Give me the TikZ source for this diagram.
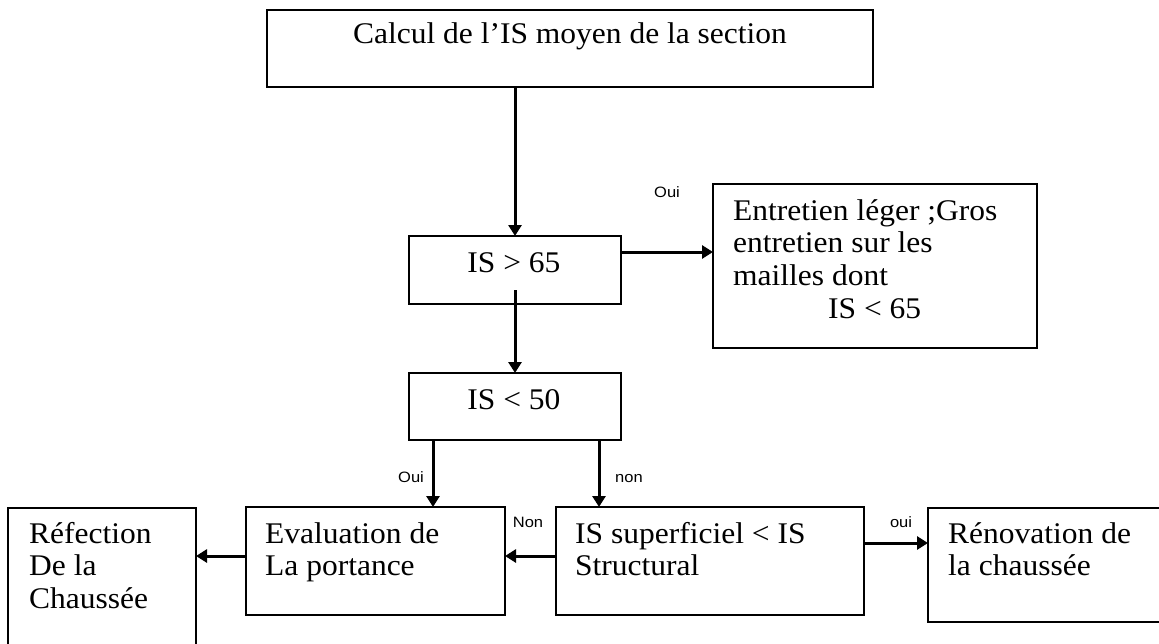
\documentclass[tikz,border=0pt]{standalone}
\usepackage{fontspec}
\setmainfont{Liberation Serif}[FakeStretch=1.05]
\newfontfamily\labfont{Liberation Sans}[FakeStretch=1.1]
\usetikzlibrary{arrows.meta,calc}
\begin{document}
\begin{tikzpicture}[x=1pt,y=-1pt,
  box/.style={draw=black,line width=1.5pt,inner sep=0pt,outer sep=0pt,anchor=north west},
  txt/.style={inner sep=0pt,anchor=base west,font=\fontsize{30}{33}\selectfont},
  ctxt/.style={inner sep=0pt,anchor=base,font=\fontsize{30}{33}\selectfont},
  lab/.style={inner sep=0pt,anchor=base,font=\labfont\fontsize{15}{17}\selectfont},
  arr/.style={line width=3pt,-{Triangle[length=11pt,width=13pt]}}]
\fill[white] (0,0) rectangle (1159,643);
\useasboundingbox (0,0) rectangle (1159,643);
% boxes
\node[box,minimum width=606pt,minimum height=77pt] (top) at (267,10) {};
\node[box,minimum width=212pt,minimum height=68pt] (gt) at (409,236) {};
\node[box,minimum width=324pt,minimum height=164pt] (ent) at (713,184) {};
\node[box,minimum width=212pt,minimum height=67pt] (lt) at (409,373) {};
\node[box,minimum width=188pt,minimum height=160pt] (ref) at (8,508) {};
\node[box,minimum width=259pt,minimum height=108pt] (eva) at (246,507) {};
\node[box,minimum width=308pt,minimum height=108pt] (sup) at (556,507) {};
\node[box,minimum width=260pt,minimum height=114pt] (ren) at (928,508) {};
% texts
\node[ctxt] (ttop) at (570,43) {Calcul de l’IS moyen de la section};
\node[ctxt] (tgt) at (514,272) {IS > 65};
\node[ctxt] (tlt) at (514,409) {IS < 50};
\node[txt] (tent1) at (733,220) {Entretien léger ;Gros};
\node[txt] (tent2) at (733,252.5) {entretien sur les};
\node[txt] (tent3) at (733,285) {mailles dont};
\node[txt] (tent4) at (828,318) {IS < 65};
\node[txt] (tref1) at (29,543) {Réfection};
\node[txt] (tref2) at (29,575.5) {De la};
\node[txt] (tref3) at (29,608) {Chaussée};
\node[txt] (teva1) at (265,543) {Evaluation de};
\node[txt] (teva2) at (265,575.5) {La portance};
\node[txt] (tsup1) at (575,543) {IS superficiel < IS};
\node[txt] (tsup2) at (575,575.5) {Structural};
\node[txt] (tren1) at (948,543) {Rénovation de};
\node[txt] (tren2) at (948,575.5) {la chaussée};
% connector points
\coordinate (g1) at ($(gt.north east)+(0,16)$);
\coordinate (g2) at ($(gt.south)+(0,-14)$);
\coordinate (l1) at ($(lt.south west)+(24,0)$);
\coordinate (l2) at ($(lt.south west)+(190,0)$);
\coordinate (s1) at ($(sup.north west)+(0,49)$);
\coordinate (e1) at ($(eva.north west)+(0,49)$);
\coordinate (s2) at ($(sup.north east)+(0,36)$);
% connectors
\draw[arr] (top.south -| gt.north) -- (gt.north);
\draw[arr] (g1) -- (g1 -| ent.west);
\draw[arr] (g2) -- (lt.north);
\draw[arr] (l1) -- (l1 |- eva.north);
\draw[arr] (l2) -- (l2 |- sup.north);
\draw[arr] (s1) -- (s1 -| eva.east);
\draw[arr] (e1) -- (e1 -| ref.east);
\draw[arr] (s2) -- (s2 -| ren.west);
% labels
\node[lab] (loui1) at (667,197) {Oui};
\node[lab] (loui2) at (411,482) {Oui};
\node[lab] (lnon1) at (629,482) {non};
\node[lab] (lnon2) at (528,527) {Non};
\node[lab] (loui3) at (901,527) {oui};
\end{tikzpicture}
\end{document}
